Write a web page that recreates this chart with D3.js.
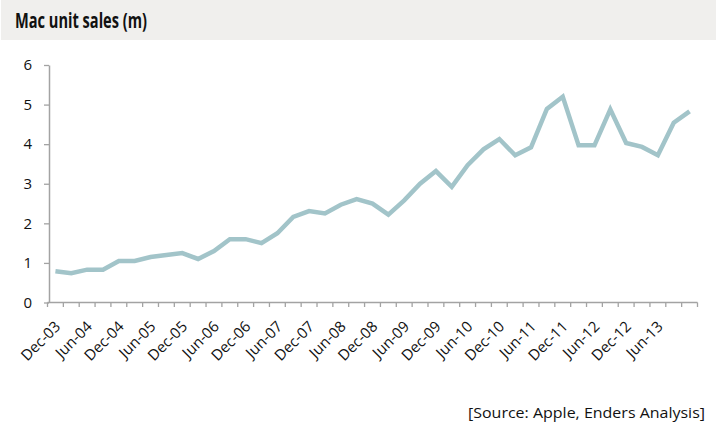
<!DOCTYPE html>
<html>
<head>
<meta charset="utf-8">
<script src="https://cdn.jsdelivr.net/npm/d3@7"></script>
<style>
  body { margin: 0; background: #fff; }
  svg { display: block; font-family: "Open Sans", sans-serif; }
</style>
</head>
<body>
<div id="chart"></div>
<script>
// quarterly Mac unit sales, millions
const quarters = [
  'Dec-03','Mar-04','Jun-04','Sep-04','Dec-04','Mar-05','Jun-05','Sep-05',
  'Dec-05','Mar-06','Jun-06','Sep-06','Dec-06','Mar-07','Jun-07','Sep-07',
  'Dec-07','Mar-08','Jun-08','Sep-08','Dec-08','Mar-09','Jun-09','Sep-09',
  'Dec-09','Mar-10','Jun-10','Sep-10','Dec-10','Mar-11','Jun-11','Sep-11',
  'Dec-11','Mar-12','Jun-12','Sep-12','Dec-12','Mar-13','Jun-13','Sep-13',
  'Dec-13'
];
const sales = [
  0.79, 0.74, 0.83, 0.83, 1.05, 1.05, 1.15, 1.20,
  1.25, 1.10, 1.30, 1.60, 1.60, 1.50, 1.75, 2.16,
  2.31, 2.25, 2.47, 2.61, 2.50, 2.22, 2.58, 3.00,
  3.32, 2.92, 3.47, 3.87, 4.13, 3.72, 3.92, 4.89,
  5.20, 3.97, 3.97, 4.88, 4.03, 3.93, 3.72, 4.54,
  4.83
];
const xLabels = [
  'Dec-03','Jun-04','Dec-04','Jun-05','Dec-05','Jun-06','Dec-06','Jun-07',
  'Dec-07','Jun-08','Dec-08','Jun-09','Dec-09','Jun-10','Dec-10','Jun-11',
  'Dec-11','Jun-12','Dec-12','Jun-13'
];
const yTicks = [0, 1, 2, 3, 4, 5, 6];

const width = 716, height = 430;
const axisColor = '#a3a3a3';

const svg = d3.select('#chart')
  .append('svg')
  .attr('width', width)
  .attr('height', height);

// title band
svg.append('rect')
  .attr('x', 1).attr('y', 0)
  .attr('width', width - 1).attr('height', 40)
  .attr('fill', '#f0efed');

svg.append('text')
  .attr('x', 15).attr('y', 28)
  .attr('font-size', 22)
  .attr('font-weight', 'bold')
  .attr('fill', '#111')
  .attr('textLength', 132)
  .attr('lengthAdjust', 'spacingAndGlyphs')
  .text('Mac unit sales (m)');

const x = d3.scaleBand()
  .domain(quarters)
  .range([47.5, 697.5]);

const y = d3.scaleLinear()
  .domain([0, 6])
  .range([302.5, 65]);

// y axis
const yAxis = svg.append('g')
  .attr('transform', `translate(${x.range()[0] + 1.5},0)`)
  .call(d3.axisLeft(y).tickValues(yTicks).tickFormat(d3.format('d'))
    .tickSize(5).tickPadding(12).tickSizeOuter(0));

// x axis, ticks between categories (Excel style)
const xAxis = svg.append('g')
  .attr('transform', `translate(0,${y(0)})`);

xAxis.append('line')
  .attr('x1', x.range()[0]).attr('x2', x.range()[1])
  .attr('y1', 0).attr('y2', 0)
  .attr('stroke', axisColor).attr('stroke-width', 1.5);

const boundaries = quarters.map(q => x(q)).concat([x.range()[1]]);
xAxis.selectAll('.xtick')
  .data(boundaries)
  .enter()
  .append('line')
  .attr('class', 'xtick')
  .attr('x1', d => d).attr('x2', d => d)
  .attr('y1', 0).attr('y2', 4.5)
  .attr('stroke', axisColor).attr('stroke-width', 1.3);

xAxis.selectAll('.xlabel')
  .data(xLabels)
  .enter()
  .append('text')
  .attr('class', 'xlabel')
  .attr('text-anchor', 'end')
  .attr('font-size', 15)
  .attr('fill', '#111')
  .attr('transform', d => `translate(${x(d) + x.bandwidth() / 2 + 6},${25}) rotate(-45)`)
  .text(d => d);

yAxis.select('.domain')
  .attr('stroke', axisColor).attr('stroke-width', 1.5);
yAxis.selectAll('.tick line')
  .attr('stroke', axisColor).attr('stroke-width', 1.3);
yAxis.selectAll('.tick text')
  .attr('font-size', 15)
  .attr('font-family', '"Open Sans", sans-serif')
  .attr('fill', '#111');

// sales line
const line = d3.line()
  .x((d, i) => x(quarters[i]) + x.bandwidth() / 2)
  .y(d => y(d));

svg.append('path')
  .datum(sales)
  .attr('d', line)
  .attr('fill', 'none')
  .attr('stroke', '#a2c4c9')
  .attr('stroke-width', 4.5)
  .attr('stroke-linejoin', 'miter');

svg.append('text')
  .attr('x', 705).attr('y', 418)
  .attr('text-anchor', 'end')
  .attr('font-size', 15)
  .attr('fill', '#111')
  .attr('textLength', 237)
  .attr('lengthAdjust', 'spacingAndGlyphs')
  .text('[Source: Apple, Enders Analysis]');
</script>
</body>
</html>
